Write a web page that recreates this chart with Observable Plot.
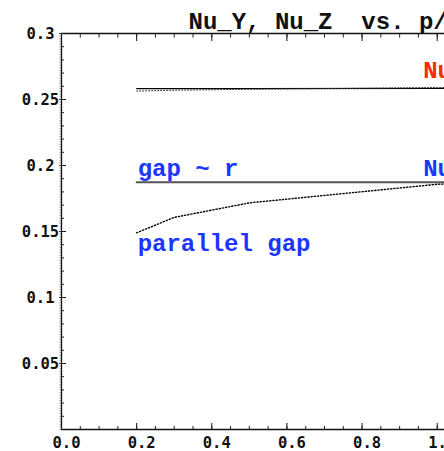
<!DOCTYPE html>
<html>
<head>
<meta charset="utf-8">
<script src="https://cdn.jsdelivr.net/npm/d3@7"></script>
<script src="https://cdn.jsdelivr.net/npm/@observablehq/plot@0.6"></script>
<style>
  html, body { margin: 0; padding: 0; background: #fff; overflow: hidden; width: 444px; height: 451px; }
  #chart { width: 444px; height: 451px; overflow: hidden; }
  #chart svg { display: block; max-width: none !important; height: 451px !important; }
</style>
</head>
<body>
<div id="chart"></div>
<script>
// p/d ratios at which the Nusselt numbers were evaluated
const pRatio = [0.2, 0.3, 0.5, 1.0, 1.4];

// gap ~ r case (solid lines)
const nuTopGapR = [0.2583, 0.2582, 0.2582, 0.2584, 0.2584];
const nuMidGapR = [0.1874, 0.1874, 0.1874, 0.1874, 0.1874];

// parallel gap case (dotted lines)
const nuTopParallel = [0.2564, 0.2570, 0.2578, 0.2590, 0.2593];
const nuMidParallel = [0.1490, 0.1607, 0.1717, 0.1858, 0.1890];

const seriesNames = ["Nu_Y", "Nu_Z"];
const caseLabels = ["gap ~ r", "parallel gap"];
const titleText = "Nu_Y, Nu_Z\u00a0\u00a0vs. p/d";

const xTicksMajor = [0, 0.2, 0.4, 0.6, 0.8, 1.0, 1.2, 1.4];
const xTickLabels = ["0.0", "0.2", "0.4", "0.6", "0.8", "1.0", "1.2", "1.4"];
const yTicksMajor = [0.05, 0.1, 0.15, 0.2, 0.25, 0.3];
const yTickLabels = ["0.05", "0.1", "0.15", "0.2", "0.25", "0.3"];

const rows = (ys) => pRatio.map((x, i) => ({x, y: ys[i]}));
const first = (ys) => [{x: pRatio[0], y: ys[0]}];
const at = (xv, ys) => [{x: xv, y: ys[pRatio.indexOf(xv)]}];

const xMinor = d3.range(0, 1.4001, 0.05);
const yMinor = d3.range(0, 0.3001, 0.01);
const yFine = d3.range(0, 0.3001, 0.002);

const tickFont = {fontFamily: "DejaVu Sans Mono", fontWeight: "bold", fontSize: 15.5, fill: "#111"};
const labelFont = {fontFamily: "Liberation Mono, Courier New, monospace", fontWeight: "bold", fontSize: 24};
const blue = "#1a36ff";
const red = "#ff2a00";

const chart = Plot.plot({
  width: 597,
  height: 451,
  marginLeft: 61,
  marginRight: 10,
  marginTop: 33,
  marginBottom: 22,
  style: {background: "white", overflow: "visible", maxWidth: "none"},
  x: {domain: [0, 1.4], axis: null},
  y: {domain: [0, 0.3], axis: null},
  marks: [
    // frame: left, bottom and top edges
    Plot.ruleX([0], {stroke: "#111", strokeWidth: 1.3}),
    Plot.ruleY([0, 0.3], {stroke: "#111", strokeWidth: 1.3}),

    // y ticks (inward major / minor, fine outward)
    Plot.axisY({anchor: "left", label: null, ticks: yTicksMajor, text: null, tickSize: 7, dx: 5, stroke: "#111"}),
    Plot.axisY({anchor: "left", label: null, ticks: yMinor, text: null, tickSize: 3, dx: 3, stroke: "#222"}),
    Plot.axisY({anchor: "left", label: null, ticks: yFine, text: null, tickSize: 1.5, stroke: "#666", strokeWidth: 0.7}),
    Plot.axisY({anchor: "left", label: null, ticks: yTicksMajor, tickSize: 0, tickPadding: 21, textAnchor: "middle", dy: 1,
      tickFormat: d => yTickLabels[yTicksMajor.indexOf(d)], ...tickFont}),

    // x ticks along bottom and top, pointing inward
    Plot.axisX({anchor: "bottom", label: null, ticks: xTicksMajor, text: null, tickSize: 6, dy: -6, stroke: "#111"}),
    Plot.axisX({anchor: "bottom", label: null, ticks: xMinor, text: null, tickSize: 3, dy: -3, stroke: "#222"}),
    Plot.axisX({anchor: "top", label: null, ticks: xTicksMajor, text: null, tickSize: 7, dy: 7, stroke: "#111"}),
    Plot.axisX({anchor: "top", label: null, ticks: xMinor, text: null, tickSize: 3.5, dy: 3.5, stroke: "#222"}),
    Plot.axisX({anchor: "bottom", label: null, ticks: xTicksMajor, tickSize: 0, tickPadding: 7, dx: 5,
      tickFormat: d => xTickLabels[xTicksMajor.indexOf(d)], ...tickFont}),

    // Nu curves
    Plot.line(rows(nuTopGapR), {x: "x", y: "y", stroke: "#000", strokeWidth: 1.2}),
    Plot.line(rows(nuTopParallel), {x: "x", y: "y", stroke: "#333", strokeWidth: 1, strokeDasharray: "1,2"}),
    Plot.line(rows(nuMidGapR), {x: "x", y: "y", stroke: "#555", strokeWidth: 2}),
    Plot.line(rows(nuMidParallel), {x: "x", y: "y", stroke: "#000", strokeWidth: 1.4, strokeDasharray: "1.2,2"}),

    // case labels
    Plot.text(first(nuMidGapR), {x: "x", y: "y", text: () => caseLabels[0], textAnchor: "start", lineAnchor: "bottom",
      dy: -6, dx: 1, fill: blue, ...labelFont}),
    Plot.text(first(nuMidParallel), {x: "x", y: "y", text: () => caseLabels[1], textAnchor: "start", lineAnchor: "bottom",
      dy: 18, dx: 1, fill: blue, ...labelFont}),

    // series labels
    Plot.text(at(1.0, nuTopGapR), {x: "x", y: "y", text: () => seriesNames[0], textAnchor: "start", lineAnchor: "bottom",
      dy: -10, dx: -14, fill: red, ...labelFont}),
    Plot.text(at(1.0, nuMidGapR), {x: "x", y: "y", text: () => seriesNames[1], textAnchor: "start", lineAnchor: "bottom",
      dy: -6, dx: -14, fill: blue, ...labelFont}),

    // title
    Plot.text([titleText], {frameAnchor: "top-left", text: d => d, textAnchor: "start", lineAnchor: "bottom",
      dy: -5, dx: 127, fill: "#111", fontFamily: labelFont.fontFamily, fontWeight: "bold", fontSize: 24})
  ]
});

document.getElementById("chart").append(chart);
</script>
</body>
</html>
